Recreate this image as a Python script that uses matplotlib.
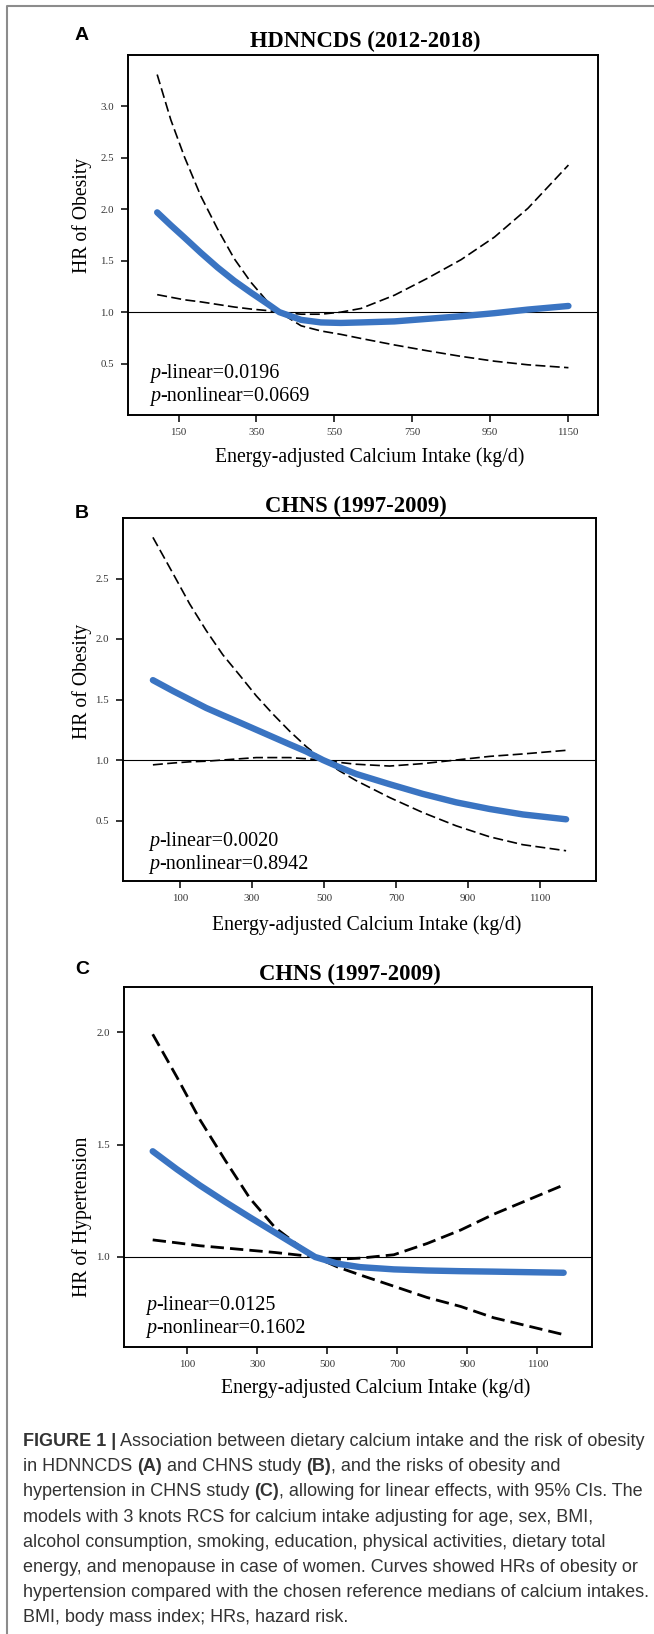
import matplotlib
matplotlib.use("Agg")
import matplotlib.pyplot as plt
from matplotlib.lines import Line2D

W, H = 654, 1634
DPI = 100

# ---- data ----
# panel A: HDNNCDS, obesity
a_x = [95, 130, 165, 207, 250, 293, 336, 379, 409, 465, 516, 567, 619, 705, 790, 876, 962, 1048, 1152]
a_hr = [1.97, 1.845, 1.725, 1.578, 1.435, 1.305, 1.19, 1.08, 1.00, 0.925, 0.90, 0.895, 0.90, 0.91, 0.935,
        0.96, 0.99, 1.025, 1.06]
a_upper = [3.31, 2.87, 2.51, 2.13, 1.81, 1.52, 1.29, 1.10, 1.00, 0.98, 0.98, 1.00, 1.036, 1.165, 1.33,
           1.51, 1.73, 2.01, 2.43]
a_lower = [1.17, 1.145, 1.12, 1.10, 1.075, 1.05, 1.03, 1.015, 1.00, 0.867, 0.817, 0.784, 0.744, 0.681,
           0.624, 0.57, 0.523, 0.488, 0.46]
a_xticks = [150, 350, 550, 750, 950, 1150]
a_yticks = [0.5, 1.0, 1.5, 2.0, 2.5, 3.0]

# panel B: CHNS, obesity
b_x = [25, 81, 127, 173, 219, 266, 312, 358, 404, 451, 497, 543, 589, 682, 774, 867, 960, 1052, 1172]
b_hr = [1.66, 1.57, 1.50, 1.43, 1.37, 1.31, 1.25, 1.19, 1.13, 1.07, 1.00, 0.94, 0.885, 0.80, 0.72,
        0.65, 0.595, 0.55, 0.51]
b_upper = [2.84, 2.54, 2.29, 2.07, 1.87, 1.70, 1.53, 1.38, 1.24, 1.11, 1.00, 0.98, 0.965, 0.95, 0.97,
           1.00, 1.03, 1.05, 1.08]
b_lower = [0.96, 0.975, 0.985, 0.99, 1.00, 1.01, 1.02, 1.02, 1.02, 1.01, 1.00, 0.91, 0.83, 0.69, 0.566,
           0.456, 0.365, 0.30, 0.25]
b_xticks = [100, 300, 500, 700, 900, 1100]
b_yticks = [0.5, 1.0, 1.5, 2.0, 2.5]

# panel C: CHNS, hypertension
c_x = [1, 70, 136, 208, 279, 351, 410, 465, 530, 594, 690, 785, 881, 975, 1175]
c_hr = [1.47, 1.39, 1.318, 1.245, 1.176, 1.108, 1.052, 1.00, 0.97, 0.955, 0.945, 0.94, 0.937, 0.935, 0.93]
c_upper = [1.99, 1.80, 1.61, 1.43, 1.26, 1.13, 1.06, 1.00, 0.99, 0.995, 1.01, 1.06, 1.12, 1.19, 1.32]
c_lower = [1.076, 1.063, 1.05, 1.04, 1.03, 1.02, 1.01, 1.00, 0.955, 0.92, 0.87, 0.82, 0.78, 0.73, 0.655]
c_xticks = [100, 300, 500, 700, 900, 1100]
c_yticks = [1.0, 1.5, 2.0]

titles = ["HDNNCDS (2012-2018)", "CHNS (1997-2009)", "CHNS (1997-2009)"]
ylabels = ["HR of Obesity", "HR of Obesity", "HR of Hypertension"]
xlabel = "Energy-adjusted Calcium Intake (kg/d)"
p_linear = ["0.0196", "0.0020", "0.0125"]
p_nonlinear = ["0.0669", "0.8942", "0.1602"]

caption = [
    [("FIGURE 1 |", "bold"), (" Association between dietary calcium intake and the risk of obesity", "normal")],
    [("in HDNNCDS ", "normal"), ("(A)", "bold"), (" and CHNS study ", "normal"), ("(B)", "bold"),
     (", and the risks of obesity and", "normal")],
    [("hypertension in CHNS study ", "normal"), ("(C)", "bold"),
     (", allowing for linear effects, with 95% CIs. The", "normal")],
    [("models with 3 knots RCS for calcium intake adjusting for age, sex, BMI,", "normal")],
    [("alcohol consumption, smoking, education, physical activities, dietary total", "normal")],
    [("energy, and menopause in case of women. Curves showed HRs of obesity or", "normal")],
    [("hypertension compared with the chosen reference medians of calcium intakes.", "normal")],
    [("BMI, body mass index; HRs, hazard risk.", "normal")],
]

BLUE = "#3a74c2"
SERIF = "Liberation Serif"
SANS = "Liberation Sans"

fig = plt.figure(figsize=(W / DPI, H / DPI), dpi=DPI)
fig.patch.set_facecolor("white")
renderer = fig.canvas.get_renderer()


def fx(x):
    return x / W


def fy(y):
    return 1 - y / H


def text_width(s, **kw):
    t = fig.text(0, 0, s + "x", **kw)
    w1 = t.get_window_extent(renderer).width
    t.remove()
    t = fig.text(0, 0, "x", **kw)
    w2 = t.get_window_extent(renderer).width
    t.remove()
    return w1 - w2


def segments(x, y, segs, **kw):
    # draw pieces of one line with mixed styles, left to right
    for s, opt in segs:
        extra = {}
        if opt == "bold":
            extra["fontweight"] = "bold"
        elif opt == "italic":
            extra["fontstyle"] = "italic"
        fig.text(fx(x), fy(y), s, va="baseline", ha="left", **kw, **extra)
        x += text_width(s, **kw, **extra)


# gray frame on top and left
fig.add_artist(Line2D([fx(7), fx(7), fx(654)], [fy(1634), fy(6), fy(6)],
                      color="#8c8c8c", lw=1.5))

panels = [
    dict(rect=(128, 55, 598, 415), xlim=(20, 1228), ylim=(0, 3.5), x=a_x, hr=a_hr, up=a_upper, lo=a_lower,
         xt=a_xticks, yt=a_yticks, dash_lw=1.2, dashes=(6, 2.6),
         letter=("A", 75, 40), title=(365, 47), xl=(370, 457), yl=(82, 215), ptxt=(150, 378, 401)),
    dict(rect=(123, 518, 596, 881), xlim=(-58, 1255), ylim=(0, 3.0), x=b_x, hr=b_hr, up=b_upper, lo=b_lower,
         xt=b_xticks, yt=b_yticks, dash_lw=1.2, dashes=(6, 2.6),
         letter=("B", 75, 518), title=(356, 512), xl=(367, 925), yl=(82, 681), ptxt=(149, 846, 869)),
    dict(rect=(124, 987, 592, 1347), xlim=(-81, 1256), ylim=(0.6, 2.2), x=c_x, hr=c_hr, up=c_upper, lo=c_lower,
         xt=c_xticks, yt=c_yticks, dash_lw=2.0, dashes=(4.8, 2.2),
         letter=("C", 75, 974), title=(350, 980), xl=(376, 1388), yl=(82, 1217), ptxt=(146, 1310, 1333)),
]

for i, p in enumerate(panels):
    l, t, r, b = p["rect"]
    ax = fig.add_axes([fx(l), fy(b), (r - l) / W, (b - t) / H])
    ax.plot(p["x"], p["up"], color="black", lw=p["dash_lw"], dashes=p["dashes"])
    ax.plot(p["x"], p["lo"], color="black", lw=p["dash_lw"], dashes=p["dashes"])
    ax.axhline(1.0, color="black", lw=0.8)
    ax.plot(p["x"], p["hr"], color=BLUE, lw=4.6, solid_capstyle="round", solid_joinstyle="round")
    ax.set_xlim(*p["xlim"])
    ax.set_ylim(*p["ylim"])
    ax.set_xticks(p["xt"])
    ax.set_yticks(p["yt"])
    ax.set_xticklabels([str(v) for v in p["xt"]], fontfamily=SERIF, fontsize=7.8, color="#333333")
    ax.set_yticklabels(["%.1f" % v for v in p["yt"]], fontfamily=SERIF, fontsize=7.8, color="#333333")
    ax.tick_params(direction="out", length=5, width=1.1, color="black")
    ax.tick_params(axis="x", pad=4.5)
    ax.tick_params(axis="y", pad=5)
    for s in ax.spines.values():
        s.set_linewidth(1.4)

    letter, lx, ly = p["letter"]
    fig.text(fx(lx), fy(ly), letter, family=SANS, fontweight="bold", fontsize=14,
             ha="left", va="baseline")
    tx, ty = p["title"]
    fig.text(fx(tx), fy(ty), titles[i], family=SERIF, fontweight="bold", fontsize=16.3,
             ha="center", va="baseline")
    xx, xy = p["xl"]
    fig.text(fx(xx), fy(xy), xlabel, family=SERIF, fontsize=14.2, ha="center", va="center")
    yx, yy = p["yl"]
    fig.text(fx(yx), fy(yy), ylabels[i], family=SERIF, fontsize=14.2, ha="center", va="center",
             rotation=90)
    px_, py1, py2 = p["ptxt"]
    segments(px_, py1, [("p", "italic"), ("-linear=" + p_linear[i], "normal")], family=SERIF, fontsize=14.5)
    segments(px_, py2, [("p", "italic"), ("-nonlinear=" + p_nonlinear[i], "normal")], family=SERIF,
             fontsize=14.5)

# caption
for k, line in enumerate(caption):
    segments(23, 1446 + 25.2 * k, line, family=SANS, fontsize=13.0, color="#333333")

fig.savefig("out.png", dpi=DPI, facecolor="white")
